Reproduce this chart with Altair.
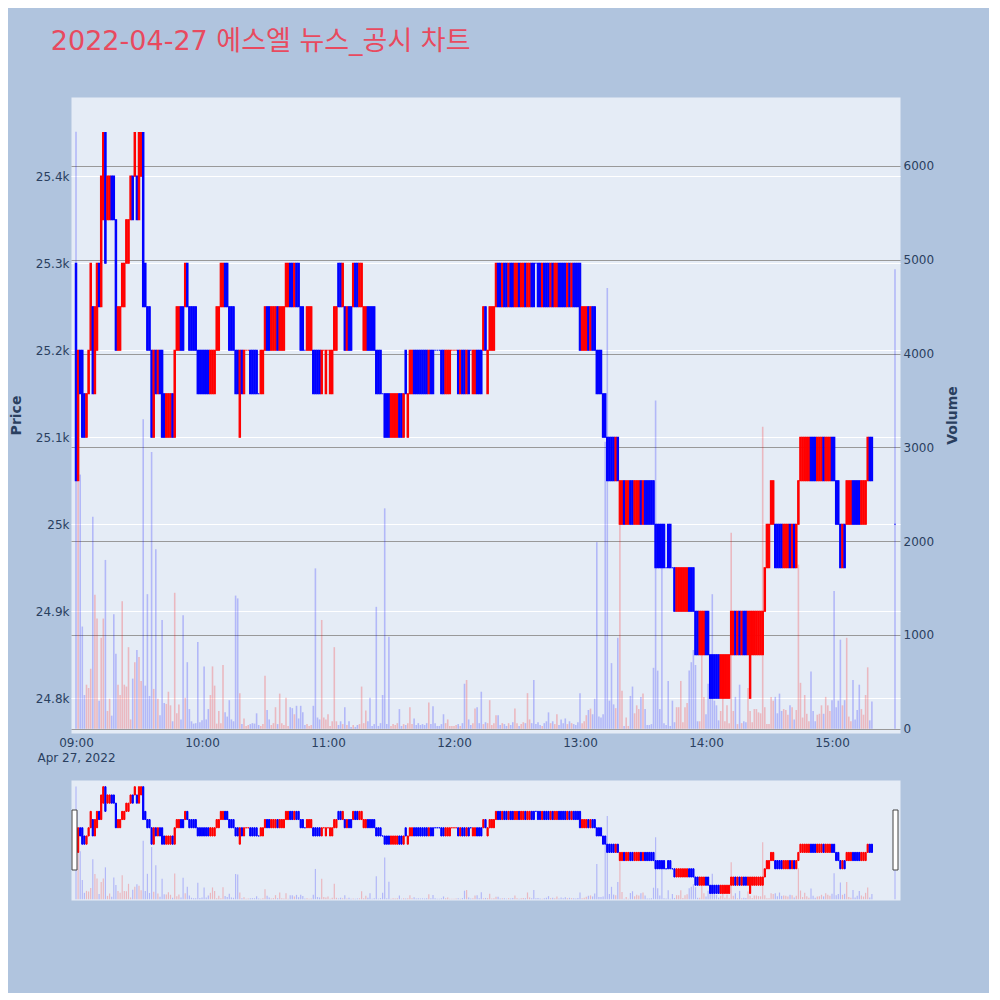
import altair as alt
import pandas as pd

TITLE = "2022-04-27 에스엘 뉴스_공시 차트"
SESSION_DATE = "2022-04-27"
BASE_PRICE = 24800
TICK_SIZE = 50

# minute offsets from 09:00 (continuous session 09:00-15:19, closing auction 15:30)
minute_offsets = list(range(380)) + [390]

# open / close in ticks of 50 won above 24,800
open_ticks = [
    10, 5, 8, 8, 7, 6, 7, 8, 9, 7,
    8, 10, 9, 11, 13, 11, 11, 12, 12, 11,
    8, 8, 9, 9, 10, 10, 11, 12, 12, 12,
    11, 12, 13, 10, 9, 9, 8, 6, 8, 7,
    8, 8, 7, 6, 6, 6, 7, 6, 8, 8,
    9, 9, 9, 10, 9, 9, 9, 9, 8, 8,
    8, 8, 8, 8, 7, 7, 7, 8, 8, 9,
    9, 10, 10, 9, 9, 9, 8, 8, 6, 8,
    7, 8, 8, 8, 8, 8, 8, 7, 7, 7,
    8, 9, 9, 8, 8, 8, 9, 8, 8, 8,
    9, 9, 10, 10, 9, 10, 10, 9, 9, 8,
    8, 8, 8, 8, 8, 8, 8, 7, 8, 7,
    8, 7, 7, 8, 8, 10, 10, 9, 9, 8,
    9, 9, 9, 10, 10, 9, 9, 8, 8, 9,
    9, 9, 9, 8, 8, 8, 7, 7, 7, 7,
    6, 6, 6, 6, 7, 7, 6, 8, 6, 7,
    7, 8, 8, 8, 8, 8, 8, 8, 7, 8,
    8, 8, 8, 8, 8, 8, 7, 7, 7, 8,
    8, 8, 8, 7, 8, 8, 7, 8, 8, 7,
    7, 8, 8, 8, 8, 9, 7, 8, 8, 8,
    9, 10, 10, 9, 10, 10, 9, 10, 10, 9,
    9, 10, 9, 9, 10, 9, 9, 10, 10, 10,
    10, 10, 9, 10, 10, 10, 9, 10, 9, 9,
    10, 10, 10, 10, 9, 10, 9, 10, 10, 10,
    10, 8, 8, 8, 9, 8, 9, 9, 8, 8,
    8, 7, 7, 6, 6, 6, 6, 5, 6, 4,
    4, 5, 4, 4, 5, 5, 4, 4, 4, 5,
    4, 5, 5, 5, 5, 5, 4, 4, 4, 4,
    4, 3, 4, 4, 3, 3, 2, 2, 2, 2,
    2, 2, 3, 3, 3, 2, 2, 1, 1, 1,
    2, 2, 1, 1, 1, 1, 1, 0, 0, 0,
    0, 0, 1, 1, 2, 1, 2, 1, 2, 2,
    1, 0, 1, 1, 1, 1, 1, 1, 2, 3,
    3, 4, 4, 4, 4, 4, 4, 3, 3, 3,
    4, 3, 4, 3, 4, 5, 5, 5, 5, 5,
    6, 6, 6, 5, 5, 5, 6, 5, 5, 5,
    6, 6, 5, 5, 4, 3, 4, 4, 4, 4,
    5, 5, 5, 5, 4, 4, 4, 5, 6, 6,
    4,
]
close_ticks = [
    5, 8, 7, 6, 6, 7, 8, 10, 7, 9,
    10, 9, 12, 13, 10, 12, 12, 11, 11, 8,
    9, 9, 10, 10, 11, 11, 12, 11, 13, 11,
    13, 13, 9, 9, 8, 8, 6, 8, 7, 8,
    7, 6, 6, 7, 7, 7, 6, 8, 9, 9,
    8, 8, 10, 9, 8, 8, 8, 8, 7, 7,
    7, 7, 7, 7, 8, 8, 8, 9, 9, 10,
    10, 9, 9, 8, 8, 8, 7, 7, 8, 7,
    8, 8, 8, 7, 7, 7, 7, 7, 8, 8,
    9, 8, 8, 9, 9, 9, 8, 9, 9, 9,
    10, 10, 9, 9, 10, 9, 9, 8, 8, 8,
    9, 9, 9, 7, 7, 7, 7, 8, 8, 8,
    8, 8, 8, 9, 9, 9, 9, 10, 8, 9,
    8, 8, 10, 9, 9, 10, 10, 9, 9, 8,
    8, 8, 8, 7, 7, 7, 7, 6, 6, 6,
    7, 7, 7, 7, 6, 6, 7, 7, 7, 8,
    8, 7, 7, 7, 7, 7, 7, 7, 8, 7,
    7, 8, 8, 8, 7, 7, 8, 8, 8, 8,
    8, 8, 7, 8, 7, 7, 8, 7, 8, 8,
    8, 7, 7, 7, 9, 8, 8, 9, 9, 9,
    10, 9, 9, 10, 9, 9, 10, 9, 9, 10,
    10, 9, 10, 10, 9, 10, 10, 9, 9, 10,
    9, 9, 10, 9, 9, 9, 10, 9, 10, 10,
    9, 9, 9, 9, 10, 9, 10, 9, 9, 9,
    8, 9, 9, 9, 8, 9, 8, 8, 7, 7,
    7, 6, 6, 5, 5, 5, 5, 6, 5, 5,
    5, 4, 5, 5, 4, 4, 5, 5, 5, 4,
    5, 4, 4, 4, 4, 4, 3, 3, 3, 3,
    3, 3, 3, 3, 3, 2, 3, 3, 3, 3,
    3, 3, 2, 2, 2, 1, 1, 2, 2, 2,
    1, 1, 0, 0, 0, 0, 0, 1, 1, 1,
    1, 1, 2, 2, 1, 2, 1, 2, 1, 1,
    2, 2, 2, 2, 2, 2, 2, 2, 3, 4,
    4, 5, 5, 3, 3, 3, 3, 4, 4, 4,
    3, 4, 3, 4, 5, 6, 6, 6, 6, 6,
    5, 5, 5, 6, 6, 6, 5, 6, 6, 6,
    5, 5, 4, 4, 3, 4, 3, 5, 5, 5,
    4, 4, 4, 4, 5, 5, 5, 6, 5, 5,
    4,
]

volumes = [
    6365, 2640, 2710, 1090, 360, 470, 435, 640, 2260, 1430,
    1175, 300, 970, 1175, 1800, 190, 320, 140, 1220, 800,
    470, 360, 1360, 470, 450, 870, 100, 535, 710, 840,
    765, 510, 3300, 460, 1435, 350, 2950, 425, 1915, 320,
    145, 1160, 275, 265, 395, 250, 80, 1450, 165, 260,
    100, 1210, 330, 710, 210, 80, 55, 60, 925, 70,
    90, 665, 100, 210, 360, 665, 460, 55, 190, 60,
    680, 175, 130, 305, 100, 80, 1420, 1390, 380, 50,
    110, 30, 40, 50, 60, 55, 165, 40, 30, 50,
    565, 200, 100, 40, 60, 230, 50, 375, 60, 40,
    330, 30, 230, 220, 155, 245, 110, 245, 175, 40,
    50, 30, 40, 245, 1710, 120, 100, 1160, 120, 100,
    155, 30, 80, 870, 80, 40, 80, 50, 230, 40,
    80, 20, 40, 20, 40, 50, 450, 60, 195, 80,
    330, 30, 50, 1300, 30, 60, 360, 2350, 50, 980,
    30, 50, 40, 60, 210, 30, 50, 40, 60, 230,
    50, 110, 40, 60, 40, 50, 40, 60, 280, 50,
    240, 60, 30, 30, 50, 155, 60, 100, 30, 30,
    30, 40, 50, 30, 60, 480, 520, 100, 40, 60,
    215, 230, 60, 395, 50, 70, 60, 305, 40, 60,
    145, 145, 40, 60, 50, 30, 60, 40, 70, 215,
    60, 30, 50, 70, 60, 380, 100, 60, 520, 50,
    70, 40, 30, 60, 80, 175, 60, 80, 50, 155,
    40, 100, 60, 110, 50, 80, 60, 50, 40, 70,
    380, 60, 80, 145, 200, 215, 155, 320, 1990, 130,
    120, 155, 3060, 4700, 300, 700, 260, 220, 970, 2200,
    405, 30, 120, 30, 350, 450, 165, 250, 210, 340,
    375, 210, 40, 40, 50, 650, 3500, 620, 210, 1970,
    60, 40, 510, 30, 300, 70, 230, 230, 510, 70,
    230, 275, 620, 710, 840, 680, 80, 80, 1060, 340,
    155, 480, 405, 1435, 300, 250, 90, 190, 450, 80,
    250, 60, 2090, 190, 340, 50, 470, 60, 80, 70,
    435, 190, 70, 210, 210, 175, 165, 3220, 230, 50,
    50, 340, 300, 340, 165, 375, 190, 210, 200, 150,
    250, 230, 100, 200, 1750, 490, 120, 360, 160, 80,
    610, 190, 80, 150, 160, 250, 160, 340, 250, 190,
    305, 1470, 230, 300, 950, 250, 305, 970, 130, 80,
    520, 100, 200, 470, 210, 150, 360, 655, 90, 290,
    4900,
]

price_ticks = [24800, 24900, 25000, 25100, 25200, 25300, 25400]
volume_ticks = [0, 1000, 2000, 3000, 4000, 5000, 6000]
hour_ticks = [9, 10, 11, 12, 13, 14, 15]

# ---- table built from the arrays above ----
rows = []
prev_dir = "down"
for i, m in enumerate(minute_offsets):
    o = BASE_PRICE + TICK_SIZE * open_ticks[i]
    c = BASE_PRICE + TICK_SIZE * close_ticks[i]
    if c > o:
        d = "up"
    elif c < o:
        d = "down"
    else:
        d = prev_dir
    prev_dir = d
    h, mm = divmod(9 * 60 + m, 60)
    rows.append({
        "time": f"{SESSION_DATE}T{h:02d}:{mm:02d}:00",
        "open": o, "close": c, "low": min(o, c), "high": max(o, c),
        "volume": volumes[i], "dir": d,
    })
df = pd.DataFrame(rows)

FONT = "DejaVu Sans"
AXIS_COLOR = "#2a3f5f"

x_scale = alt.Scale(domain=[
    alt.DateTime(year=2022, month=4, date=27, hours=8, minutes=57, seconds=37),
    alt.DateTime(year=2022, month=4, date=27, hours=15, minutes=32, seconds=23),
], padding=0)
price_scale = alt.Scale(domain=[24760, 25491], zero=False, nice=False)
vol_scale = alt.Scale(domain=[-45, 6735], zero=False, nice=False)
dir_scale = alt.Scale(domain=["up", "down"], range=["#FF0000", "#0000FF"])

x_axis = alt.Axis(
    values=[alt.DateTime(year=2022, month=4, date=27, hours=h) for h in hour_ticks],
    labelExpr="datum.index == 0 ? [timeFormat(datum.value, '%H:%M'), 'Apr 27, 2022'] : timeFormat(datum.value, '%H:%M')",
    grid=False, domain=False, ticks=False, labelFlush=False, labelOverlap=False,
    labelBound=False, labelPadding=4, labelLineHeight=15,
)
price_axis = alt.Axis(
    orient="left", values=price_ticks, format=".3~s", grid=True, gridColor="white",
    gridWidth=1, domain=False, ticks=False, labelPadding=2, title="Price",
    titlePadding=12,
)
vol_axis = alt.Axis(
    orient="right", values=volume_ticks, format="d", grid=True, gridColor="#999999",
    gridWidth=1, domain=False, ticks=False, labelPadding=3, title="Volume",
    titlePadding=12, titleAngle=270, titleBaseline="top",
)

color_enc = alt.Color("dir:N", scale=dir_scale, legend=None)
stroke_enc = alt.Stroke("dir:N", scale=dir_scale, legend=None)

main_base = alt.Chart(df).encode(x=alt.X("time:T", scale=x_scale, axis=x_axis, title=None))
vol_layer = main_base.mark_bar(size=1.6, opacity=0.22).encode(
    y=alt.Y("volume:Q", scale=vol_scale, axis=vol_axis), y2=alt.datum(0), color=color_enc)
wick_layer = main_base.mark_rule(strokeWidth=1.2).encode(
    y=alt.Y("low:Q", scale=price_scale, axis=price_axis), y2="high:Q", color=color_enc)
body_layer = main_base.mark_bar(size=1.4, strokeWidth=1.1).encode(
    y=alt.Y("open:Q", scale=price_scale, axis=price_axis), y2="close:Q",
    color=color_enc, stroke=stroke_enc)
main = alt.layer(vol_layer, alt.layer(wick_layer, body_layer)).resolve_scale(
    y="independent").properties(width=829, height=636)

slider_base = alt.Chart(df).encode(x=alt.X("time:T", scale=x_scale, axis=None))
s_vol = slider_base.mark_bar(size=1.2, opacity=0.22).encode(
    y=alt.Y("volume:Q", scale=vol_scale, axis=None), y2=alt.datum(0), color=color_enc)
s_wick = slider_base.mark_rule(strokeWidth=1).encode(
    y=alt.Y("low:Q", scale=price_scale, axis=None), y2="high:Q", color=color_enc)
s_body = slider_base.mark_bar(size=1.2, strokeWidth=1).encode(
    y=alt.Y("open:Q", scale=price_scale, axis=None), y2="close:Q",
    color=color_enc, stroke=stroke_enc)
handle_data = pd.DataFrame({"k": [0]})
left_handle = alt.Chart(handle_data).mark_rect(
    fill="white", stroke="#444444", strokeWidth=1).encode(
    x=alt.value(1), x2=alt.value(6), y=alt.value(30), y2=alt.value(90))
right_handle = alt.Chart(handle_data).mark_rect(
    fill="white", stroke="#444444", strokeWidth=1).encode(
    x=alt.value(822), x2=alt.value(827), y=alt.value(30), y2=alt.value(90))
slider = alt.layer(s_vol, alt.layer(s_wick, s_body), left_handle, right_handle).resolve_scale(
    y="independent").properties(width=829, height=120)

chart = alt.vconcat(main, slider, spacing=15).properties(
    title=alt.TitleParams(
        text=TITLE, anchor="start", fontSize=27, color="#E84A5F",
        font="DejaVu Sans, Noto Sans CJK KR", fontWeight="normal", offset=41, dx=42,
    ),
    background="#B0C4DE",
    padding={"left": 0, "top": 19, "right": 28, "bottom": 92},
).configure_view(fill="#E5ECF6", stroke="transparent").configure_axis(
    labelFont=FONT, titleFont=FONT, labelColor=AXIS_COLOR, titleColor=AXIS_COLOR,
    labelFontSize=12, titleFontSize=14, titleFontWeight="bold",
)

chart.save("out.html", embed_options={"renderer": "svg", "actions": False})
